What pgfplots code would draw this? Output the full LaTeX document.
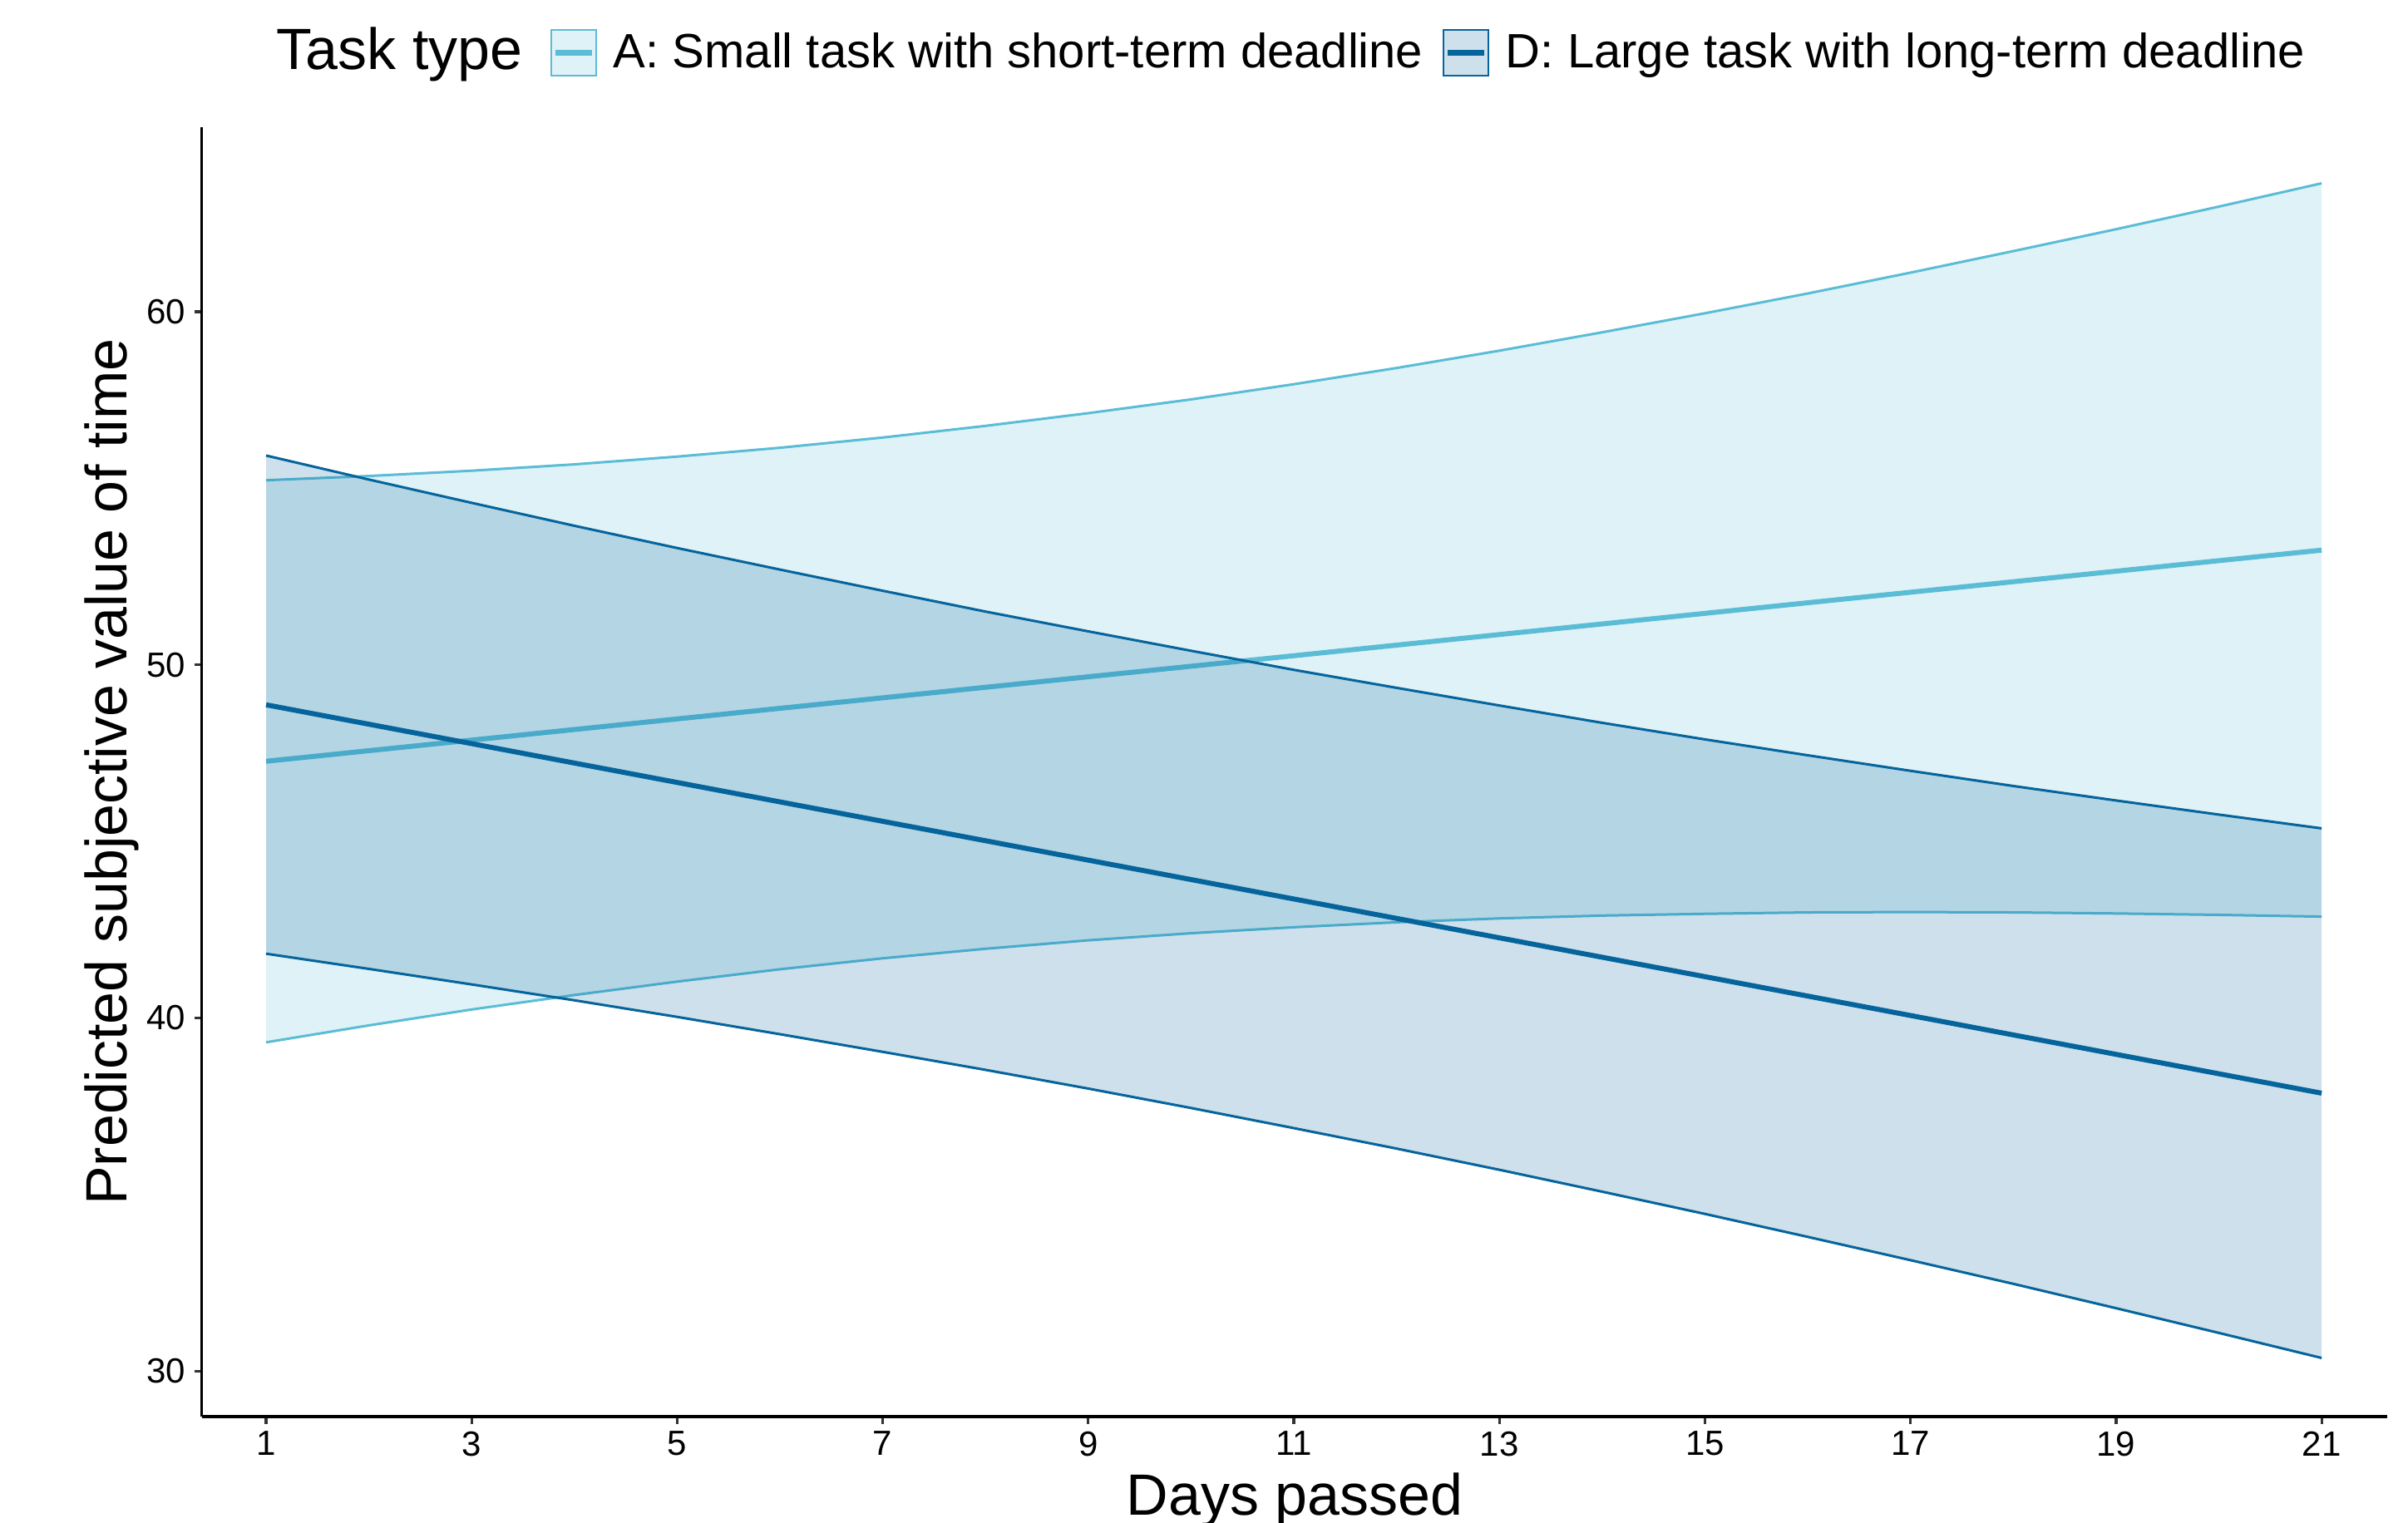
\documentclass[border=0pt]{standalone}
\usepackage{pgfplots}
\pgfplotsset{compat=1.18}
\usepackage{fontspec}
\setmainfont{Liberation Sans}
\definecolor{cA}{HTML}{5BBCD6}
\definecolor{cD}{HTML}{05649B}
\begin{document}
\begin{tikzpicture}
\begin{axis}[
  at={(0,0)}, anchor=south west, scale only axis,
  width=657.1pt, height=387.75pt,
  xmin=0.375, xmax=21.64, ymin=28.71, ymax=65.23,
  axis x line*=bottom, axis y line*=left,
  axis line style={line width=0.8pt, black},
  xtick={1,3,...,21}, ytick={30,40,50,60},
  tick align=outside, major tick length=2.3pt,
  tick style={line width=0.8pt, black!80},
  /pgf/number format/assume math mode=true,
  ticklabel style={font=\fontsize{10.5}{12}\selectfont, inner sep=0pt},
  xticklabel style={anchor=north, yshift=-2pt},
  yticklabel style={anchor=east, xshift=-2.5pt},
  xlabel={Days passed},
  ylabel={Predicted subjective value of time},
  label style={font=\fontsize{17.5}{21}\selectfont, inner sep=0pt},
  xlabel style={at={(axis description cs:0.5,-0.0761)}, anchor=base},
  ylabel style={at={(axis description cs:-0.03425,0.5)}, anchor=base},
  legend style={at={(axis description cs:0.1590,1.0576)}, anchor=west, draw=none, fill=none,
    inner sep=0pt, font=\fontsize{14.5}{17}\selectfont, nodes={inner sep=0pt},
    /tikz/every odd column/.append style={column sep=5pt},
    /tikz/every even column/.append style={column sep=5.8pt}},
  legend columns=-1,
]
% ---- A: Small task with short-term deadline ----
\addplot[draw=none, fill=cA, fill opacity=0.2, forget plot] coordinates {
 (1,55.23) (2,55.35) (3,55.50) (4,55.68) (5,55.90) (6,56.15) (7,56.44) (8,56.77) (9,57.13) (10,57.52) (11,57.95) (12,58.41) (13,58.90) (14,59.42) (15,59.96) (16,60.52) (17,61.11) (18,61.72) (19,62.34) (20,62.98) (21,63.64)
 (21,42.87) (20,42.92) (19,42.96) (18,42.99) (17,43.00) (16,42.99) (15,42.95) (14,42.90) (13,42.82) (12,42.71) (11,42.57) (10,42.40) (9,42.20) (8,41.96) (7,41.69) (6,41.38) (5,41.03) (4,40.65) (3,40.24) (2,39.79) (1,39.31)
} -- cycle;
\addplot[cA, line width=0.75pt, forget plot] coordinates {
 (1,55.23) (2,55.35) (3,55.50) (4,55.68) (5,55.90) (6,56.15) (7,56.44) (8,56.77) (9,57.13) (10,57.52) (11,57.95) (12,58.41) (13,58.90) (14,59.42) (15,59.96) (16,60.52) (17,61.11) (18,61.72) (19,62.34) (20,62.98) (21,63.64)};
\addplot[cA, line width=0.75pt, forget plot] coordinates {
 (1,39.31) (2,39.79) (3,40.24) (4,40.65) (5,41.03) (6,41.38) (7,41.69) (8,41.96) (9,42.20) (10,42.40) (11,42.57) (12,42.71) (13,42.82) (14,42.90) (15,42.95) (16,42.99) (17,43.00) (18,42.99) (19,42.96) (20,42.92) (21,42.87)};
\addplot[cA, line width=1.5pt, forget plot] coordinates {(1,47.27) (6,48.77) (11,50.26) (16,51.76) (21,53.25)};
% ---- D: Large task with long-term deadline ----
\addplot[draw=none, fill=cD, fill opacity=0.2, forget plot] coordinates {
 (1,55.93) (2,55.25) (3,54.59) (4,53.94) (5,53.31) (6,52.70) (7,52.10) (8,51.51) (9,50.95) (10,50.40) (11,49.86) (12,49.35) (13,48.85) (14,48.36) (15,47.89) (16,47.44) (17,47.00) (18,46.57) (19,46.16) (20,45.76) (21,45.37)
 (21,30.37) (20,31.08) (19,31.78) (18,32.47) (17,33.14) (16,33.80) (15,34.45) (14,35.08) (13,35.70) (12,36.30) (11,36.88) (10,37.45) (9,38.00) (8,38.53) (7,39.04) (6,39.54) (5,40.03) (4,40.50) (3,40.95) (2,41.39) (1,41.82)
} -- cycle;
\addplot[cD, line width=0.75pt, forget plot] coordinates {
 (1,55.93) (2,55.25) (3,54.59) (4,53.94) (5,53.31) (6,52.70) (7,52.10) (8,51.51) (9,50.95) (10,50.40) (11,49.86) (12,49.35) (13,48.85) (14,48.36) (15,47.89) (16,47.44) (17,47.00) (18,46.57) (19,46.16) (20,45.76) (21,45.37)};
\addplot[cD, line width=0.75pt, forget plot] coordinates {
 (1,41.82) (2,41.39) (3,40.95) (4,40.50) (5,40.03) (6,39.54) (7,39.04) (8,38.53) (9,38.00) (10,37.45) (11,36.88) (12,36.30) (13,35.70) (14,35.08) (15,34.45) (16,33.80) (17,33.14) (18,32.47) (19,31.78) (20,31.08) (21,30.37)};
\addplot[cD, line width=1.5pt, forget plot] coordinates {(1,48.87) (6,46.12) (11,43.37) (16,40.62) (21,37.87)};
% ---- legend ----
\addlegendimage{legend image code/.code={
  \draw[draw=cA, fill=cA!20, line width=0.5pt] (0pt,-6.8pt) rectangle (13.6pt,6.8pt);
  \draw[cA, line width=1.75pt] (1.3pt,0pt) -- (12.3pt,0pt);}}
\addlegendentry{A: Small task with short-term deadline}
\addlegendimage{legend image code/.code={
  \draw[draw=cD, fill=cD!20, line width=0.5pt] (0pt,-6.8pt) rectangle (13.6pt,6.8pt);
  \draw[cD, line width=1.75pt] (1.3pt,0pt) -- (12.3pt,0pt);}}
\addlegendentry{D: Large task with long-term deadline}
\end{axis}
\node[anchor=base west, font=\fontsize{17.5}{21}\selectfont, inner sep=0pt]
  at (22.3pt,405pt) {Task type};
\pgfresetboundingbox
\useasboundingbox (-60.7pt,-32pt) rectangle (663.3pt,426pt);
\end{tikzpicture}
\end{document}
